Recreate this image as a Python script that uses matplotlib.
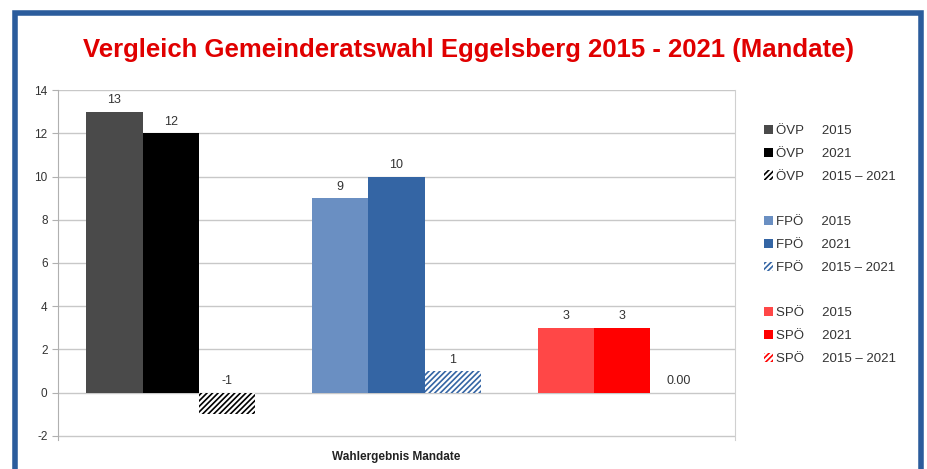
import matplotlib.pyplot as plt
from matplotlib.patches import Patch, Rectangle

# Daten
parteien = ["ÖVP", "FPÖ", "SPÖ"]
mandate_2015 = [13, 9, 3]
mandate_2021 = [12, 10, 3]
differenz = [-1, 1, 0]
labels_diff = ["-1", "1", "0.00"]

farben_2015 = ["#4a4a4a", "#6a8fc2", "#ff4747"]
farben_2021 = ["#000000", "#3465a4", "#ff0000"]
farben_hatch = ["#000000", "#3465a4", "#ff0000"]

plt.rcParams['font.family'] = ['Liberation Sans', 'DejaVu Sans']
plt.rcParams['hatch.linewidth'] = 1.2
plt.rcParams['axes.unicode_minus'] = False

fig = plt.figure(figsize=(9.28, 4.69), dpi=100)
fig.patch.set_facecolor("white")
ax = fig.add_axes([58 / 928, 0.0618, 677 / 928, 0.746])

breite = 0.25
for i, p in enumerate(parteien):
    ax.bar(i - breite, mandate_2015[i], breite, color=farben_2015[i], zorder=3)
    ax.bar(i, mandate_2021[i], breite, color=farben_2021[i], zorder=3)
    ax.bar(i + breite, differenz[i], breite, color="white", edgecolor=farben_hatch[i],
           hatch="//////", linewidth=0, zorder=3)
    # Beschriftungen
    ax.text(i - breite, mandate_2015[i] + 0.25, str(mandate_2015[i]), ha="center", va="bottom",
            fontsize=9, color="#333333")
    ax.text(i, mandate_2021[i] + 0.25, str(mandate_2021[i]), ha="center", va="bottom",
            fontsize=9, color="#333333")
    ax.text(i + breite, max(differenz[i], 0) + 0.25, labels_diff[i], ha="center", va="bottom",
            fontsize=9, color="#333333")

ax.set_xlim(-0.5, 2.5)
ax.set_ylim(-2.2, 14)
ax.set_yticks(range(-2, 15, 2))
ax.set_xticks([])
ax.tick_params(axis="y", labelsize=8.5, labelcolor="#333333", color="#b0b0b0", length=4)
ax.grid(axis="y", color="#c8c8c8", linewidth=1, zorder=0)
for s in ["top", "bottom"]:
    ax.spines[s].set_visible(False)
ax.spines["left"].set_color("#b0b0b0")
ax.spines["right"].set_color("#d0d0d0")
ax.set_xlabel("Wahlergebnis Mandate", fontsize=8.5, fontweight="bold", color="#222222", labelpad=8)

fig.text(469 / 928, 1 - 50 / 469, "Vergleich Gemeinderatswahl Eggelsberg 2015 - 2021 (Mandate)",
         ha="center", va="center", fontsize=18.5, fontweight="bold", color="#e00000")

# Legende
handles, labels = [], []
for i, p in enumerate(parteien):
    handles.append(Patch(facecolor=farben_2015[i]))
    labels.append(f"{p}     2015")
    handles.append(Patch(facecolor=farben_2021[i]))
    labels.append(f"{p}     2021")
    handles.append(Patch(facecolor="white", edgecolor=farben_hatch[i], hatch="//////", linewidth=0))
    labels.append(f"{p}     2015 – 2021")
    if i < 2:
        handles.append(Patch(facecolor="none", edgecolor="none"))
        labels.append(" ")
fig.legend(handles, labels, loc="upper left", bbox_to_anchor=(752 / 928, 1 - 113 / 469),
           frameon=False, fontsize=9.5, handlelength=0.7, handleheight=0.7, handletextpad=0.25,
           labelspacing=0.8, labelcolor="#333333")

# blauer Rahmen
fig.patches.append(Rectangle((15 / 928, -0.05), 906 / 928, 1.05 - 13 / 469, transform=fig.transFigure,
                             fill=False, edgecolor="#2b5c9c", linewidth=4))

fig.savefig("out.png", dpi=100)
